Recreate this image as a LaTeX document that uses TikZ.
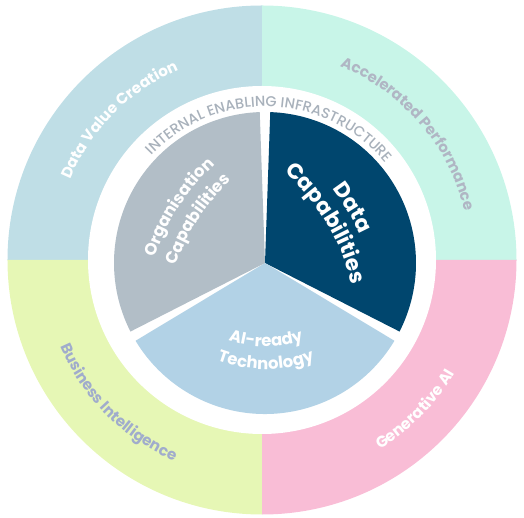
\documentclass[tikz,border=0pt]{standalone}
\usepackage{fontspec}
\setmainfont{Poppins}
\newfontfamily\popsb{Poppins SemiBold}
\newfontfamily\popmd{Poppins Medium}
\newfontfamily\popb{Poppins Bold}
\usetikzlibrary{decorations.text}
\definecolor{qTL}{HTML}{BFDEE6}
\definecolor{qTR}{HTML}{C8F5E8}
\definecolor{qBL}{HTML}{E6F7B5}
\definecolor{qBR}{HTML}{F9BDD6}
\definecolor{secGrey}{HTML}{B2BEC7}
\definecolor{secNavy}{HTML}{00466E}
\definecolor{secBlue}{HTML}{B2D2E6}
\definecolor{txtGrey}{HTML}{A8B1BB}
\definecolor{txtAcc}{HTML}{B0B6C4}
\definecolor{txtBI}{HTML}{A0ACCC}
\tikzset{
  arclabel/.style n args={2}{decorate, decoration={text along path, text align=center, text color=#1, text={#2}}}
}
\begin{document}
\begin{tikzpicture}[x=1pt,y=1pt]
\useasboundingbox (-262,-258) rectangle (262,260);
% outer ring quadrants
\fill[qTL] (0,0) -- (90:254.5) arc[start angle=90, end angle=180, radius=254.5] -- cycle;
\fill[qTR] (0,0) -- (0:254.5) arc[start angle=0, end angle=90, radius=254.5] -- cycle;
\fill[qBL] (0,0) -- (180:254.5) arc[start angle=180, end angle=270, radius=254.5] -- cycle;
\fill[qBR] (0,0) -- (270:254.5) arc[start angle=270, end angle=360, radius=254.5] -- cycle;
% white disc
\fill[white] (0,0) circle[radius=174];
% pie sectors
\coordinate (P) at (3,-3);
\fill[secNavy] (P) -- ++(88:151) arc[start angle=88, end angle=-27, radius=151] -- cycle;
\fill[secBlue] (P) -- ++(-31:151) arc[start angle=-31, end angle=-149, radius=151] -- cycle;
\fill[secGrey] (P) -- ++(207:151) arc[start angle=207, end angle=92, radius=151] -- cycle;
% outer labels
\path[arclabel={white}{|\popb\fontsize{15.2}{15.2}\selectfont|Data Value Creation}]
  (195.5:207.6) arc[start angle=195.5, end angle=75.5, radius=207.6];
\path[arclabel={txtAcc}{|\popb\fontsize{15}{15}\selectfont|Accelerated Performance}]
  (100.8:208.5) arc[start angle=100.8, end angle=-19.2, radius=208.5];
\path[arclabel={txtBI}{|\popb\fontsize{15.2}{15.2}\selectfont|Business Intelligence}]
  (164.8:219.5) arc[start angle=164.8, end angle=284.8, radius=219.5];
\path[arclabel={white}{|\popb\fontsize{15.5}{15.5}\selectfont|Generative AI}]
  (-104.3:223.5) arc[start angle=-104.3, end angle=15.7, radius=223.5];
% ring label
\path[arclabel={txtGrey}{|\popmd\fontsize{14.4}{14.4}\selectfont|INTERNAL ENABLING INFRASTRUCTURE}]
  ([shift={(3,-3)}]178:156.5) arc[start angle=178, end angle=-2, radius=156.5];
% Data Capabilities
\path[arclabel={white}{|\popb\fontsize{21.5}{21.5}\selectfont|Data}]
  ([shift={(-120.8,-74.5)}]71:240.5) arc[start angle=71, end angle=-9, radius=240.5];
\path[arclabel={white}{|\popb\fontsize{21.5}{21.5}\selectfont|Capabilities}]
  ([shift={(-120.8,-74.5)}]71:216.5) arc[start angle=71, end angle=-9, radius=216.5];
% Organisation Capabilities
\path[arclabel={white}{|\popb\fontsize{16.5}{16.5}\selectfont|Organisation}]
  ([shift={(112,-73.8)}]187:232.4) arc[start angle=187, end angle=107, radius=232.4];
\path[arclabel={white}{|\popb\fontsize{16.5}{16.5}\selectfont|Capabilities}]
  ([shift={(112,-73.8)}]187:209.5) arc[start angle=187, end angle=107, radius=209.5];
% AI-ready Technology
\path[arclabel={white}{|\popb\fontsize{16.5}{16.5}\selectfont|AI-ready}]
  ([shift={(4,30)}]-130:116.7) arc[start angle=-130, end angle=-50, radius=116.7];
\path[arclabel={white}{|\popb\fontsize{16.5}{16.5}\selectfont|Technology}]
  ([shift={(4,30)}]-130:139.3) arc[start angle=-130, end angle=-50, radius=139.3];
\end{tikzpicture}
\end{document}
